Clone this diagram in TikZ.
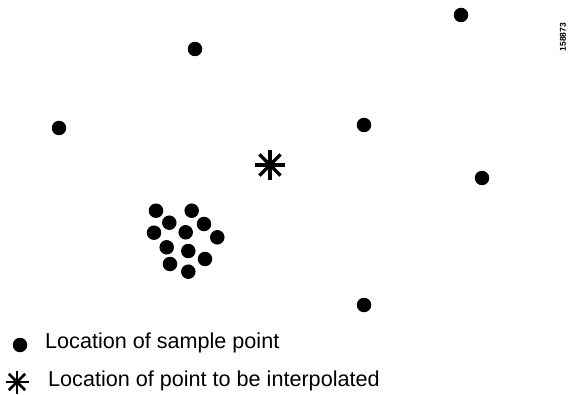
\documentclass[tikz,border=0pt]{standalone}
\usepackage{fontspec}
\setmainfont{Liberation Sans}
\begin{document}
\begin{tikzpicture}[x=1pt,y=-1pt,
  sample/.style={circle,fill=black,inner sep=0pt,minimum size=14.5pt},
  star/.style={inner sep=0pt,minimum size=30pt},
  legendtext/.style={anchor=west,inner sep=0pt,font=\fontsize{21.6}{24}\selectfont}]
\useasboundingbox (0,0) rectangle (572,395);
% scattered sample points
\node[sample] (p1) at (195,49) {};
\node[sample] (p2) at (461,15) {};
\node[sample] (p3) at (59,128) {};
\node[sample] (p4) at (364,125) {};
\node[sample] (p5) at (482,178) {};
\node[sample] (p6) at (364,305) {};
% cluster
\foreach \i/\x/\y in {c1/156/210.7, c2/191.7/210.7, c3/169.3/222.7, c4/204/224,
  c5/154/232.7, c6/185.7/232.3, c7/217.3/237.3, c8/166.7/247.3, c9/188.3/251,
  c10/205/259, c11/170/264, c12/188.3/271.7}
  \node[sample] (\i) at (\x,\y) {};
% point to be interpolated
\node[star] (q) at (270,165) {};
\foreach \a in {0,45,90,135}
  \draw[line width=3.4pt] (q.center) ++(\a:15) -- ++(\a+180:30);
% legend
\node[sample] (l1) at (20,345) {};
\node[legendtext] (t1) at (45,343) {Location of sample point};
\node[star,minimum size=24pt] (l2) at (17,382) {};
\foreach \a in {0,45,90,135}
  \draw[line width=2.8pt] (l2.center) ++(\a:11.5) -- ++(\a+180:23);
\node[legendtext] (t2) at (48,381) {Location of point to be interpolated};
% figure number
\node[rotate=90,inner sep=0pt,font=\fontsize{8.5}{10}\selectfont\bfseries] (fig) at (563,37) {158873};
\end{tikzpicture}
\end{document}
